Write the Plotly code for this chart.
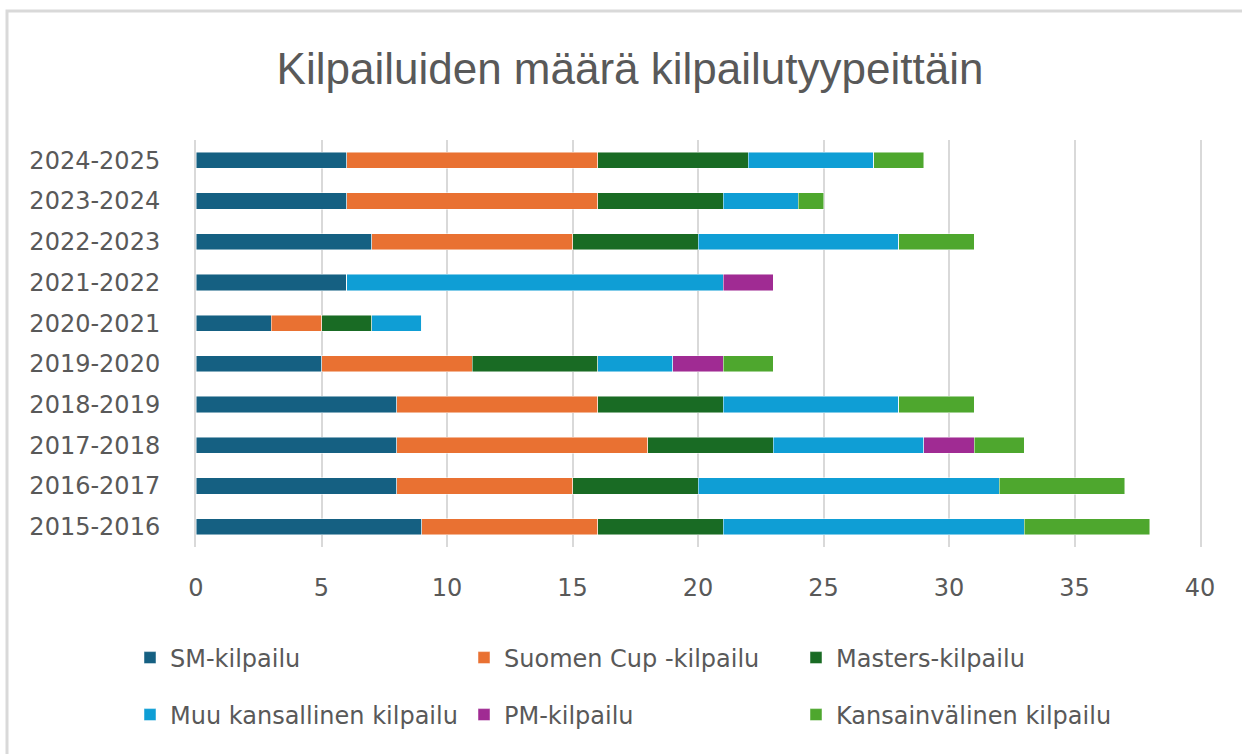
import plotly.graph_objects as go

seasons = ["2015-2016", "2016-2017", "2017-2018", "2018-2019", "2019-2020",
           "2020-2021", "2021-2022", "2022-2023", "2023-2024", "2024-2025"]
sm_kilpailu = [9, 8, 8, 8, 5, 3, 6, 7, 6, 6]
suomen_cup = [7, 7, 10, 8, 6, 2, 0, 8, 10, 10]
masters = [5, 5, 5, 5, 5, 2, 0, 5, 5, 6]
muu_kansallinen = [12, 12, 6, 7, 3, 2, 15, 8, 3, 5]
pm_kilpailu = [0, 0, 2, 0, 2, 0, 2, 0, 0, 0]
kansainvalinen = [5, 5, 2, 3, 2, 0, 0, 3, 1, 2]
x_ticks = [0, 5, 10, 15, 20, 25, 30, 35, 40]

series_names = ["SM-kilpailu", "Suomen Cup -kilpailu", "Masters-kilpailu",
                "Muu kansallinen kilpailu", "PM-kilpailu", "Kansainvälinen kilpailu"]
series_values = [sm_kilpailu, suomen_cup, masters, muu_kansallinen, pm_kilpailu, kansainvalinen]
series_colors = ["#156082", "#E97132", "#196B24", "#0F9ED5", "#A02B93", "#4EA72E"]

W, H = 1242, 754
L, R, T, B = 196, 1200, 140, 547
FONT = "DejaVu Sans"
TXT = "#595959"
GRID = "#d9d9d9"

# legend symbol centres (pixels)
leg_pos = [(150, 658), (484, 658), (816, 658), (150, 715), (484, 715), (816, 715)]

fig = go.Figure()
legends = {}
for i, (name, vals, col) in enumerate(zip(series_names, series_values, series_colors)):
    key = "legend" if i == 0 else f"legend{i + 1}"
    fig.add_trace(go.Bar(
        y=seasons, x=vals, name=name, orientation="h",
        marker=dict(color=col, line=dict(color="rgba(255,255,255,0.6)", width=0.8)),
        legend=key,
    ))
    sx, sy = leg_pos[i]
    legends[key] = dict(
        orientation="h", xref="container", yref="container",
        xanchor="left", yanchor="middle",
        x=(sx - 20) / W, y=1 - sy / H,
        font=dict(family=FONT, size=24, color=TXT),
        bgcolor="rgba(0,0,0,0)", borderwidth=0,
        itemclick=False, itemdoubleclick=False,
    )

def px_x(p):
    return (p - L) / (R - L)

def px_y(q):
    return (B - q) / (B - T)

fig.update_layout(
    width=W, height=H,
    margin=dict(l=L, r=W - R, t=T, b=H - B),
    paper_bgcolor="white", plot_bgcolor="white",
    barmode="stack", bargap=0.6,
    title=dict(text="Kilpailuiden määrä kilpailutyypeittäin",
               x=630 / W, xanchor="center", xref="container",
               y=1 - 69 / H, yanchor="middle", yref="container",
               font=dict(family="Liberation Sans", size=44, color=TXT)),
    xaxis=dict(range=[0, 40], tickvals=x_ticks, showgrid=True,
               gridcolor=GRID, gridwidth=2, zeroline=False,
               showline=False, ticks="", ticklabelstandoff=24,
               tickfont=dict(family=FONT, size=24, color=TXT)),
    yaxis=dict(categoryorder="array", categoryarray=seasons,
               showgrid=False, zeroline=False,
               showline=True, mirror=True, linecolor=GRID, linewidth=2,
               ticks="", ticklabelstandoff=29,
               tickfont=dict(family=FONT, size=24, color=TXT)),
    shapes=[dict(type="rect", xref="paper", yref="paper",
                 x0=px_x(7), x1=px_x(1262), y0=px_y(800), y1=px_y(11),
                 line=dict(color=GRID, width=3), fillcolor="rgba(0,0,0,0)",
                 layer="below")],
    showlegend=True,
    **legends,
)

fig.write_html("out.html", config={"displayModeBar": False},
               post_script="document.body.style.margin='0';document.body.style.overflow='hidden';")
